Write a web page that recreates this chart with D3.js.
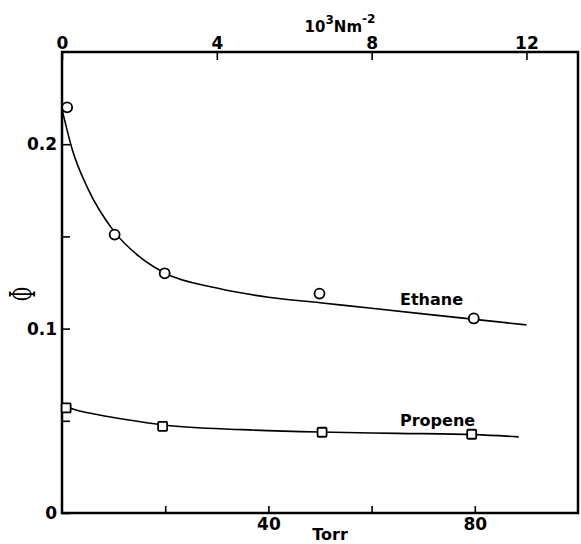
<!DOCTYPE html>
<html>
<head>
<meta charset="utf-8">
<script src="https://cdn.jsdelivr.net/npm/d3@7"></script>
<style>
  body { margin: 0; background: #fff; }
  svg { display: block; }
  text { font-family: "DejaVu Sans", sans-serif; font-weight: bold; fill: #000; }
</style>
</head>
<body>
<div id="chart"></div>
<script>
// measured points
const ethaneTorr = [1, 10.2, 19.9, 49.9, 79.8];
const ethanePhi = [0.220, 0.151, 0.130, 0.119, 0.1055];
const propeneTorr = [0.8, 19.5, 50.4, 79.4];
const propenePhi = [0.057, 0.047, 0.0438, 0.0427];

// drawn curves
const ethaneFitTorr = [0, 2, 5, 10, 15, 20, 30, 40, 50, 60, 70, 80, 90];
const ethaneFitPhi = [0.219, 0.197, 0.176, 0.153, 0.139, 0.130, 0.122, 0.117, 0.114, 0.111, 0.108, 0.105, 0.102];
const propeneFitTorr = [0, 2, 6, 12, 20, 35, 50, 65, 80, 88.5];
const propeneFitPhi = [0.059, 0.0565, 0.0538, 0.0508, 0.0476, 0.0452, 0.0439, 0.0432, 0.0425, 0.0413];

// ticks
const torrTicks = [20, 40, 60, 80];
const torrLabels = [40, 80];
const kpaTicks = [0, 4, 8, 12];
const phiTicks = [0, 0.05, 0.1, 0.15, 0.2];
const phiLabels = [0, 0.1, 0.2];

const width = 581;
const height = 544;
const margin = {top: 52, right: 3, bottom: 31, left: 62};

const svg = d3.select('#chart')
  .append('svg')
  .attr('width', width)
  .attr('height', height)

const x = d3.scaleLinear()
  .domain([0, 100])
  .range([margin.left, width - margin.right])

// 1 Torr = 0.1333224 kN m-2
const xTop = d3.scaleLinear()
  .domain([0, 100 * 0.1333224])
  .range([margin.left, width - margin.right])

const y = d3.scaleLinear()
  .domain([0, 0.25])
  .range([height - margin.bottom, margin.top])

const bottomAxis = d3.axisBottom(x)
  .tickValues(torrTicks)
  .tickSize(-7)
  .tickPadding(5)
  .tickFormat(d => torrLabels.includes(d) ? d : '')

const topAxis = d3.axisTop(xTop)
  .tickValues(kpaTicks)
  .tickSize(-8)
  .tickPadding(3)

const leftAxis = d3.axisLeft(y)
  .tickValues(phiTicks)
  .tickSize(-8)
  .tickPadding(5)
  .tickFormat(d => phiLabels.includes(d) ? String(d) : '')

svg.append('g')
  .attr('transform', `translate(0, ${height - margin.bottom})`)
  .call(bottomAxis)

svg.append('g')
  .attr('transform', `translate(0, ${margin.top})`)
  .call(topAxis)

svg.append('g')
  .attr('transform', `translate(${margin.left}, 0)`)
  .call(leftAxis)

svg.selectAll('.domain').remove()
svg.selectAll('.tick line').attr('stroke', '#000').attr('stroke-width', 1.6)
svg.selectAll('.tick text')
  .style('font-family', '"DejaVu Sans", sans-serif')
  .style('font-weight', 'bold')
  .style('font-size', '17px')
  .attr('fill', '#000')

// frame
svg.append('rect')
  .attr('x', margin.left)
  .attr('y', margin.top)
  .attr('width', width - margin.left - margin.right)
  .attr('height', height - margin.top - margin.bottom)
  .attr('fill', 'none')
  .attr('stroke', '#000')
  .attr('stroke-width', 2.5)

// axis titles
svg.append('text')
  .attr('x', 330)
  .attr('y', 540)
  .attr('text-anchor', 'middle')
  .style('font-size', '16px')
  .text('Torr')

const unit = svg.append('text')
  .attr('x', 340)
  .attr('y', 32)
  .attr('text-anchor', 'middle')
  .style('font-size', '15px')
unit.append('tspan').text('10')
unit.append('tspan').attr('dy', -8).style('font-size', '12px').text('3')
unit.append('tspan').attr('dy', 8).text('Nm')
unit.append('tspan').attr('dy', -9).style('font-size', '12px').text('-2')

svg.append('text')
  .attr('transform', 'translate(23, 294) rotate(-90) scale(0.8, 1.6)')
  .attr('text-anchor', 'middle')
  .attr('dominant-baseline', 'central')
  .style('font-family', '"DejaVu Serif", serif')
  .style('font-weight', 'normal')
  .style('font-size', '22px')
  .text('Φ')

// curves
const line = d3.line()
  .x(d => x(d[0]))
  .y(d => y(d[1]))
  .curve(d3.curveMonotoneX)

svg.append('path')
  .datum(ethaneFitTorr.map((t, i) => [t, ethaneFitPhi[i]]))
  .attr('d', line)
  .attr('fill', 'none')
  .attr('stroke', '#000')
  .attr('stroke-width', 1.6)

svg.append('path')
  .datum(propeneFitTorr.map((t, i) => [t, propeneFitPhi[i]]))
  .attr('d', line)
  .attr('fill', 'none')
  .attr('stroke', '#000')
  .attr('stroke-width', 1.6)

// markers
svg.selectAll('.ethane')
  .data(ethaneTorr.map((t, i) => [t, ethanePhi[i]]))
  .enter()
  .append('circle')
  .attr('class', 'ethane')
  .attr('cx', d => x(d[0]))
  .attr('cy', d => y(d[1]))
  .attr('r', 5)
  .attr('fill', '#fff')
  .attr('stroke', '#000')
  .attr('stroke-width', 1.8)

svg.selectAll('.propene')
  .data(propeneTorr.map((t, i) => [t, propenePhi[i]]))
  .enter()
  .append('rect')
  .attr('class', 'propene')
  .attr('x', d => x(d[0]) - 4.5)
  .attr('y', d => y(d[1]) - 4.5)
  .attr('width', 9)
  .attr('height', 9)
  .attr('rx', 1)
  .attr('fill', '#fff')
  .attr('stroke', '#000')
  .attr('stroke-width', 1.8)

// series labels
svg.append('text')
  .attr('x', x(65.5))
  .attr('y', y(0.1128))
  .style('font-size', '16px')
  .text('Ethane')

svg.append('text')
  .attr('x', x(65.5))
  .attr('y', y(0.0472))
  .style('font-size', '16px')
  .text('Propene')
</script>
</body>
</html>
